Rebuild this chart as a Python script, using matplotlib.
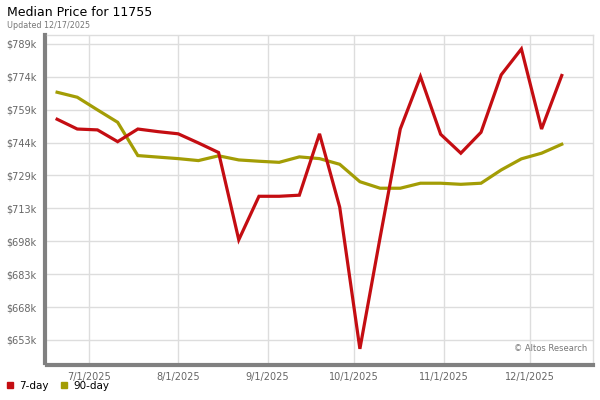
import numpy as np
import matplotlib
matplotlib.use("Agg")
import matplotlib.pyplot as plt
import matplotlib.dates as mdates
from matplotlib.lines import Line2D

# ---- data ----
dates = np.arange(np.datetime64("2025-06-20"), np.datetime64("2025-12-13"), np.timedelta64(7, "D"))
day7 = [754.4, 749.9, 749.5, 744.1, 749.9, 748.7, 747.7, 743.5, 739.1, 699.0,
        719.0, 719.0, 719.5, 747.7, 714.0, 648.9, 700.0, 749.9, 774.0, 747.5,
        738.8, 748.4, 774.8, 786.7, 749.9, 774.5]
day90 = [766.8, 764.5, 758.7, 753.0, 737.7, 737.0, 736.3, 735.4, 737.6, 735.7,
         735.1, 734.6, 737.1, 736.3, 733.7, 725.7, 722.7, 722.7, 725.0, 725.0,
         724.5, 725.0, 731.1, 736.2, 738.8, 742.9]
y_ticks = [653 + i * (789 - 653) / 9 for i in range(10)]
x_tick_dates = ["2025-07-01", "2025-08-01", "2025-09-01", "2025-10-01", "2025-11-01", "2025-12-01"]
x_tick_labels = ["7/1/2025", "8/1/2025", "9/1/2025", "10/1/2025", "11/1/2025", "12/1/2025"]
series_names = ["7-day", "90-day"]
colors = ["#c40d12", "#a39d05"]

fig = plt.figure(figsize=(6, 4), dpi=100)
ax = fig.add_axes([47 / 600, 1 - 363 / 400, (593 - 47) / 600, (363 - 35) / 400])

ax.plot(dates, day7, color=colors[0], lw=2.3, solid_joinstyle="miter", zorder=3)
ax.plot(dates, day90, color=colors[1], lw=2.3, solid_joinstyle="miter", zorder=2)

ax.set_xlim(np.datetime64("2025-06-16T12:00"), np.datetime64("2025-12-22T20:00"))
ax.set_ylim(642.4, 793.1)

ax.set_yticks(y_ticks)
ax.set_yticklabels([f"${round(v)}k" for v in y_ticks])
ax.set_xticks([mdates.date2num(np.datetime64(d)) for d in x_tick_dates])
ax.set_xticklabels(x_tick_labels)

ax.tick_params(axis="both", length=0, labelsize=7, labelcolor="#666666")
ax.tick_params(axis="y", pad=6)
ax.tick_params(axis="x", pad=5)
ax.grid(True, color="#dddddd", lw=1)
ax.set_axisbelow(True)

for s in ["top", "right"]:
    ax.spines[s].set_color("#dddddd")
    ax.spines[s].set_linewidth(1)
for s in ["left", "bottom"]:
    ax.spines[s].set_color("#808080")
    ax.spines[s].set_linewidth(3)
    ax.spines[s].set_position(("outward", 1.5))

ax.text(0.99, 0.03, "© Altos Research", transform=ax.transAxes, ha="right", va="bottom",
        fontsize=6, color="#777777")

fig.text(7 / 600, 1 - 12 / 400, "Median Price for 11755", fontsize=9, va="center", ha="left", color="#000000")
fig.text(7 / 600, 1 - 25 / 400, "Updated 12/17/2025", fontsize=5.8, va="center", ha="left", color="#777777")

handles = [Line2D([], [], marker="s", color=c, linestyle="none", markersize=5) for c in colors]
fig.legend(handles, series_names, loc="lower left", bbox_to_anchor=(-0.008, 0.0), ncol=2,
           frameon=False, fontsize=7.5, handletextpad=0.4, columnspacing=1.0, handlelength=1,
           labelcolor="#000000")

fig.savefig("out.png", dpi=100)
